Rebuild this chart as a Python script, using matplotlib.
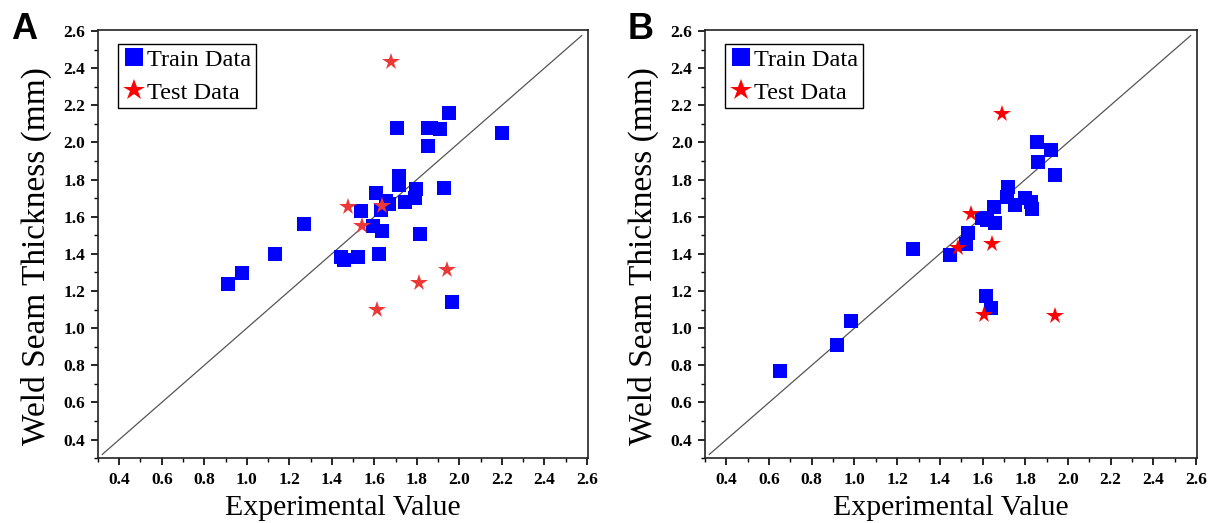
import matplotlib
matplotlib.use("Agg")
import matplotlib.pyplot as plt
from matplotlib.ticker import MultipleLocator, FormatStrFormatter

# Datos del panel A
train_a_x = [0.913, 0.978, 1.133, 1.268, 1.441, 1.456, 1.525, 1.535, 1.607, 1.594,
             1.638, 1.623, 1.629, 1.654, 1.670, 1.707, 1.717, 1.714, 1.745, 1.792,
             1.795, 1.815, 1.853, 1.850, 1.868, 1.908, 1.949, 1.929, 1.963, 2.201]
train_a_y = [1.240, 1.299, 1.401, 1.558, 1.381, 1.365, 1.383, 1.628, 1.730, 1.549,
             1.522, 1.399, 1.637, 1.683, 1.671, 2.075, 1.818, 1.773, 1.678, 1.701,
             1.750, 1.509, 1.978, 2.079, 2.079, 2.072, 2.156, 1.752, 1.139, 2.052]
test_a_x = [1.676, 1.475, 1.541, 1.638, 1.942, 1.809, 1.610]
test_a_y = [2.435, 1.651, 1.549, 1.655, 1.315, 1.243, 1.099]

# Datos del panel B
train_b_x = [0.653, 0.918, 0.983, 1.274, 1.448, 1.524, 1.534, 1.596, 1.619, 1.654,
             1.658, 1.720, 1.713, 1.751, 1.798, 1.826, 1.834, 1.857, 1.920, 1.860,
             1.940, 1.615, 1.638]
train_b_y = [0.768, 0.911, 1.041, 1.427, 1.396, 1.452, 1.511, 1.591, 1.582, 1.650,
             1.568, 1.761, 1.704, 1.663, 1.698, 1.680, 1.639, 2.002, 1.957, 1.895,
             1.823, 1.175, 1.109]
test_b_x = [1.690, 1.544, 1.485, 1.646, 1.607, 1.940]
test_b_y = [2.154, 1.612, 1.430, 1.454, 1.073, 1.064]

ticks = [0.4, 0.6, 0.8, 1.0, 1.2, 1.4, 1.6, 1.8, 2.0, 2.2, 2.4, 2.6]

plt.rcParams['font.family'] = ['Liberation Serif', 'DejaVu Serif']


def dibujar_panel(ax, tx, ty, sx, sy, star_color):
    """Dibuja un panel de valores predichos vs experimentales"""
    # Linea 1:1
    ax.plot([0.32, 2.575], [0.32, 2.575], color='#555555', linewidth=0.9, zorder=1)

    ax.plot(tx, ty, linestyle='none', marker='s', markersize=9.8,
            color='#0000FF', markeredgewidth=0, label='Train Data', zorder=2)
    ax.plot(sx, sy, linestyle='none', marker='*', markersize=13,
            color=star_color, markeredgewidth=0, label='Test Data', zorder=3)

    ax.set_xlim(0.3, 2.605)
    ax.set_ylim(0.3, 2.605)
    ax.set_xticks(ticks)
    ax.set_yticks(ticks)
    ax.xaxis.set_minor_locator(MultipleLocator(0.1))
    ax.yaxis.set_minor_locator(MultipleLocator(0.1))
    ax.xaxis.set_major_formatter(FormatStrFormatter('%.1f'))
    ax.yaxis.set_major_formatter(FormatStrFormatter('%.1f'))

    ax.tick_params(which='major', direction='out', length=5, width=1.2, labelsize=12.5)
    ax.tick_params(axis='x', which='major', pad=5)
    ax.tick_params(axis='y', which='major', pad=4)
    ax.tick_params(which='minor', direction='out', length=3, width=1.0)
    for lab in ax.get_xticklabels() + ax.get_yticklabels():
        lab.set_fontweight('bold')

    for sp in ax.spines.values():
        sp.set_linewidth(1.2)
        sp.set_color('#222222')

    ax.set_xlabel('Experimental Value', fontsize=21.5, labelpad=5)
    ax.set_ylabel('Weld Seam Thickness (mm)', fontsize=24)
    ax.yaxis.set_label_coords(-0.094, 0.472)

    # Leyenda con marco negro
    leg = ax.legend(loc='upper left', bbox_to_anchor=(0.041, 0.968), borderaxespad=0,
                    fontsize=17.5, fancybox=False, edgecolor='black', framealpha=1,
                    handlelength=0.9, handletextpad=0.1, borderpad=0.2,
                    labelspacing=0.45, markerscale=1.25)
    leg.get_frame().set_linewidth(1.0)
    leg.legend_handles[1].set_color('#FF0000')


fig = plt.figure(figsize=(12.11, 5.23), dpi=100, facecolor='white')
ax_a = fig.add_axes([0.0809, 0.124, 0.4047, 0.8186])
ax_b = fig.add_axes([0.5822, 0.124, 0.4063, 0.8186])

dibujar_panel(ax_a, train_a_x, train_a_y, test_a_x, test_a_y, '#EE3838')
dibujar_panel(ax_b, train_b_x, train_b_y, test_b_x, test_b_y, '#FF0000')

fig.text(0.009, 0.977, 'A', fontsize=26, fontweight='bold', family='Liberation Sans',
         va='top', ha='left')
fig.text(0.518, 0.977, 'B', fontsize=26, fontweight='bold', family='Liberation Sans',
         va='top', ha='left')

fig.savefig('out.png', dpi=100, facecolor='white')
